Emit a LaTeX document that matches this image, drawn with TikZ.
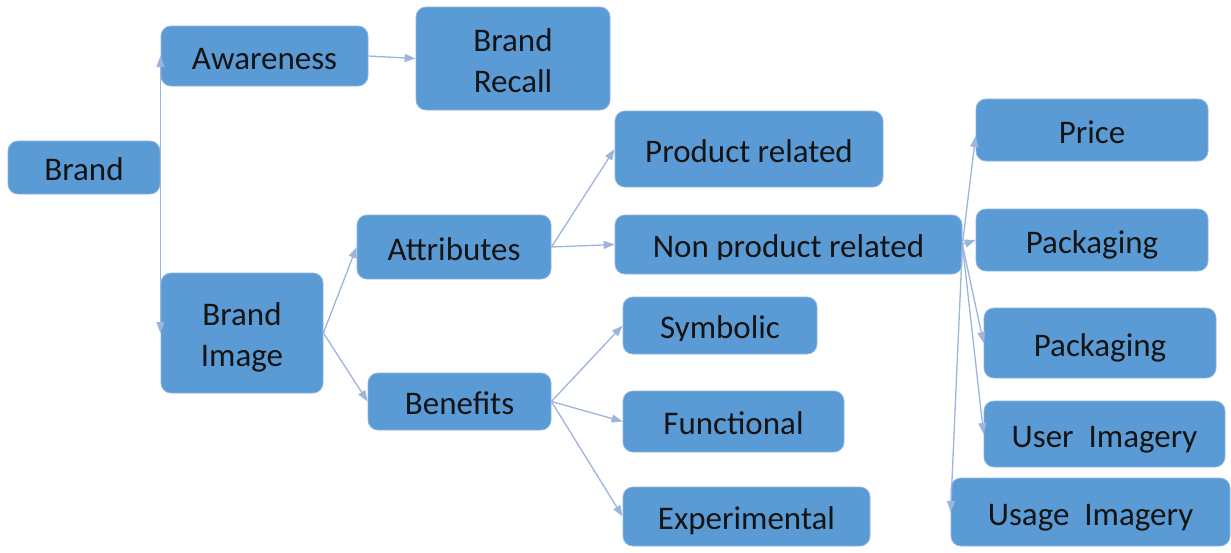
\documentclass[tikz,border=0pt]{standalone}
\usepackage{fontspec}
\setmainfont{Carlito}
\usetikzlibrary{arrows.meta}
\definecolor{boxfill}{HTML}{5B9BD5}
\definecolor{boxedge}{HTML}{8DB6E3}
\definecolor{linkcol}{HTML}{9DB5DC}
\tikzset{
  box/.style={draw=boxedge, line width=0.8pt, fill=boxfill, rounded corners=10pt,
    inner sep=0pt, align=center, text height=26pt, text depth=0pt,
    font=\fontsize{33}{41}\selectfont, text=black!92},
  twoline/.style={text height=67pt},
  plain/.style={inner sep=0pt, align=center, text height=26pt, text depth=0pt,
    font=\fontsize{33}{41}\selectfont, text=black!92},
  link/.style={draw=linkcol, line width=1.3pt, -{Triangle[length=11pt,width=8pt]}}
}
\begin{document}
\begin{tikzpicture}[x=1pt,y=-1pt]
\useasboundingbox (0,0) rectangle (1231,552);
% first level
\node[box, minimum width=152, minimum height=53] (brand) at (84,167.5) {Brand};
\node[box, minimum width=207, minimum height=60] (aware) at (264.5,56) {Awareness};
\node[box, twoline, minimum width=194, minimum height=103] (recall) at (513,58.5) {Brand\\Recall};
\node[box, twoline, minimum width=162, minimum height=120] (brandimg) at (242,333) {Brand\\Image};
% brand image branches
\node[box, minimum width=194, minimum height=64] (attr) at (454,247) {Attributes};
\node[box, minimum width=183, minimum height=57] (benef) at (459.5,401.5) {Benefits};
\node[box, minimum width=268, minimum height=76] (prodrel) at (749,149) {Product related};
\node[box, minimum width=347, minimum height=59] (nonprod) at (788.5,244.5) {};
\begin{scope}
  \clip (nonprod.north west) rectangle (nonprod.east |- 0,259.5);
  \node[plain] (nonprodtext) at (nonprod.center) {Non product related};
\end{scope}
\node[box, minimum width=194, minimum height=57] (symb) at (720,325.5) {};
\begin{scope}
  \clip (symb.north west) rectangle (symb.east |- 0,340.5);
  \node[plain] (symbtext) at (symb.center) {Symbolic};
\end{scope}
\node[box, minimum width=221, minimum height=61] (func) at (733.5,421.5) {Functional};
\node[box, minimum width=247, minimum height=59] (exper) at (746.5,516.5) {Experimental};
% non product related items
\node[box, minimum width=232, minimum height=62] (price) at (1092,130) {Price};
\node[box, minimum width=232, minimum height=62] (packa) at (1092,240) {Packaging};
\node[box, minimum width=232, minimum height=70] (packb) at (1100,343) {Packaging};
\node[box, minimum width=241, minimum height=66] (user) at (1104.5,434) {User\ \ Imagery};
\node[box, minimum width=279, minimum height=68] (usage) at (1090.5,512) {Usage\ \ Imagery};
% connectors
\draw[link] (brand.east) -- (brand.east |- aware.west);
\draw[link] (brand.east) -- (brand.east |- brandimg.west);
\draw[link] (aware.east) -- (recall.west);
\draw[link] (brandimg.east) -- (attr.west);
\draw[link] (brandimg.east) -- (benef.west);
\draw[link] (attr.east) -- (prodrel.west);
\draw[link] (attr.east) -- (nonprod.west);
\draw[link] (benef.east) -- (symb.west);
\draw[link] (benef.east) -- (func.west);
\draw[link] (benef.east) -- (exper.west);
\draw[link] (nonprod.east) -- ([yshift=-6pt]price.west);
\draw[link] (nonprod.east) -- (packa.west);
\draw[link] (nonprod.east) -- (packb.west);
\draw[link] (nonprod.east) -- (user.west);
\draw[link] (nonprod.east) -- (usage.west);
\end{tikzpicture}
\end{document}
